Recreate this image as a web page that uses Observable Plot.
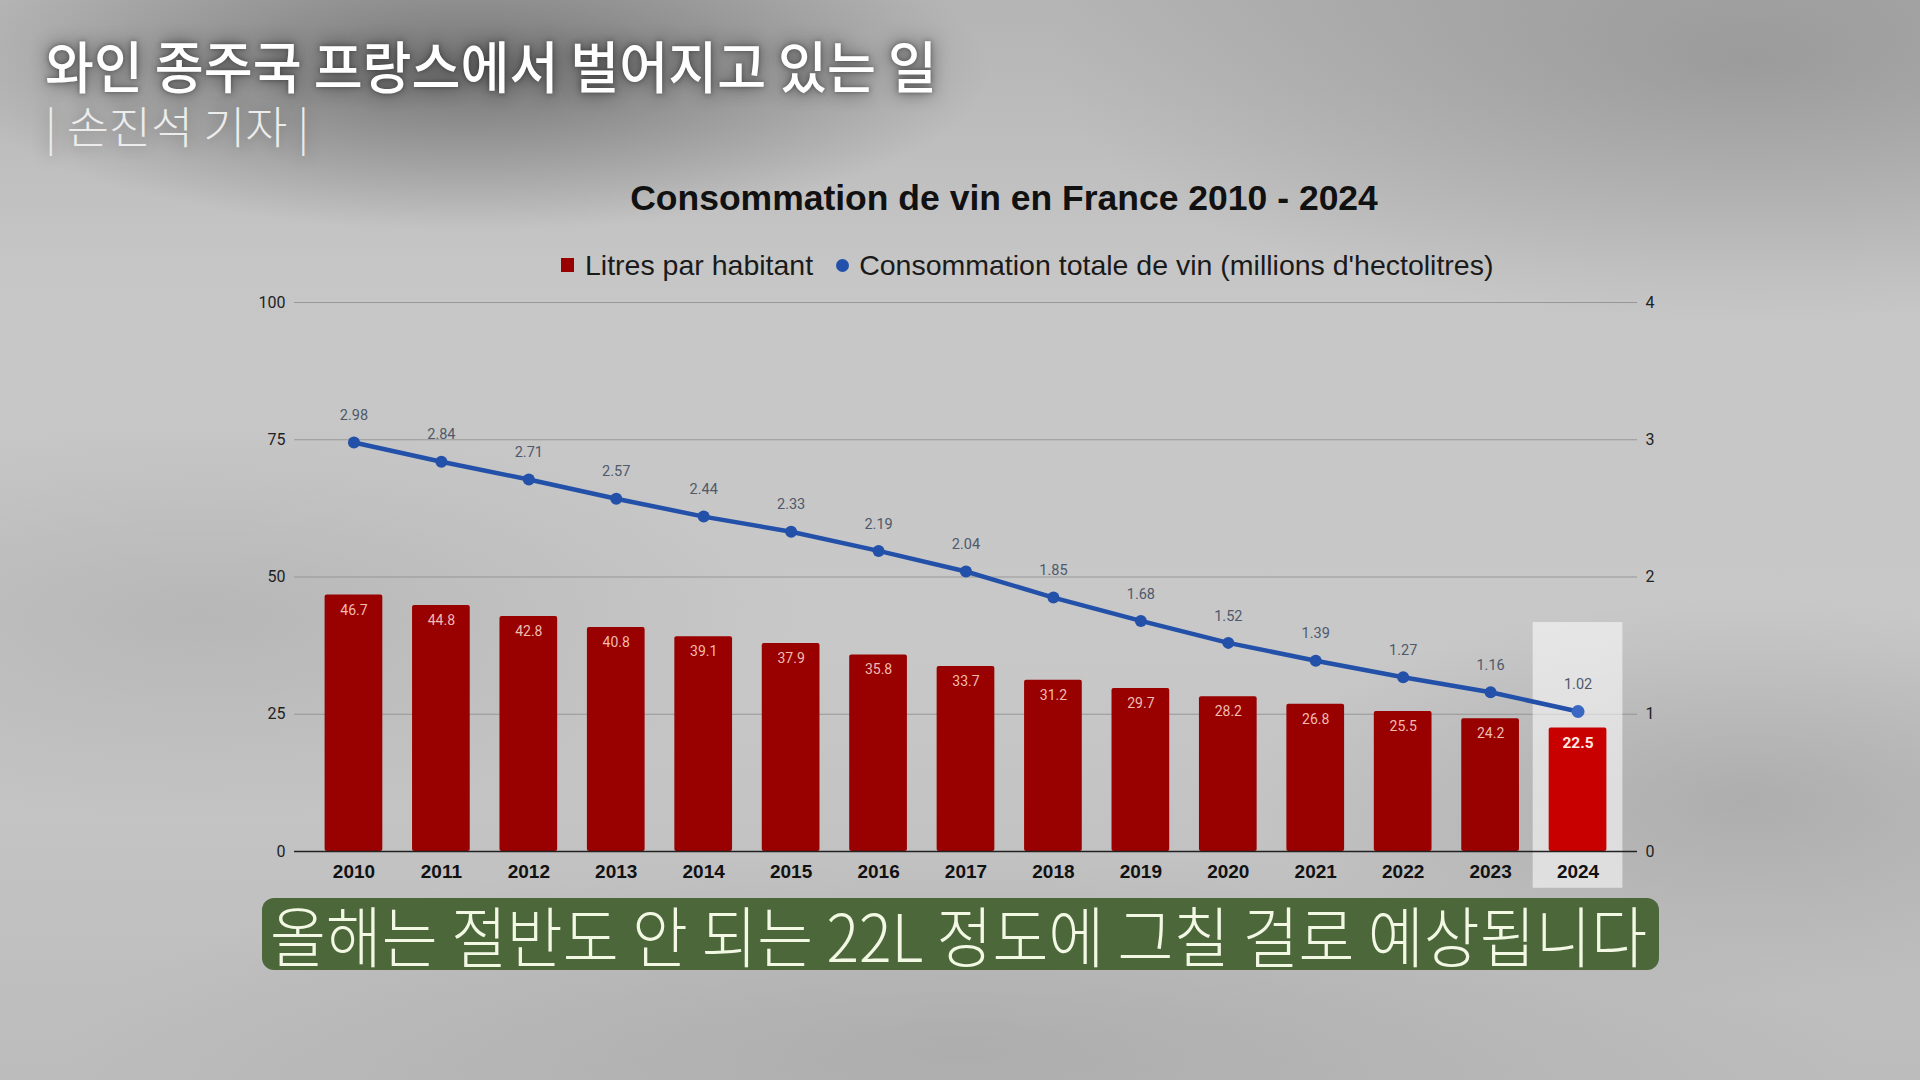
<!DOCTYPE html>
<html>
<head>
<meta charset="utf-8">
<script src="https://cdn.jsdelivr.net/npm/d3@7"></script>
<script src="https://cdn.jsdelivr.net/npm/@observablehq/plot@0.6"></script>
<style>
  html, body { margin: 0; padding: 0; }
  body {
    width: 1920px; height: 1080px; overflow: hidden; position: relative;
    background:
      radial-gradient(ellipse 520px 160px at 470px 70px, rgba(60,60,60,0.55), rgba(60,60,60,0) 100%),
      radial-gradient(ellipse 700px 260px at 1750px 60px, rgba(120,120,120,0.45), rgba(120,120,120,0) 100%),
      radial-gradient(ellipse 600px 200px at 200px 620px, rgba(150,150,150,0.35), rgba(150,150,150,0) 100%),
      radial-gradient(ellipse 500px 200px at 1750px 800px, rgba(140,140,140,0.4), rgba(140,140,140,0) 100%),
      radial-gradient(ellipse 900px 200px at 960px 1050px, rgba(150,150,150,0.4), rgba(150,150,150,0) 100%),
      linear-gradient(180deg, #b4b4b4 0%, #c6c6c6 25%, #c8c8c8 60%, #bcbcbc 100%);
  }
  .kr { font-family: "Noto Sans CJK KR", "Noto Sans", sans-serif; position: absolute; white-space: nowrap; transform-origin: left center; }
  #title { left: 45px; top: 32px; font-size: 56px; line-height: 64px; color: #ffffff; font-weight: 500;
    transform: scaleX(0.95); text-shadow: 0 0 18px rgba(30,30,30,0.75), 0 0 6px rgba(30,30,30,0.5); }
  #byline { left: 45px; top: 99px; font-size: 44px; line-height: 52px; color: #ececec; font-weight: 300;
    transform: scaleX(1.04); text-shadow: 0 0 14px rgba(60,60,60,0.5); }
  #ctitle { position: absolute; left: 0; width: 2008px; top: 178px; text-align: center;
    font-family: "Liberation Sans", Arial, sans-serif; font-weight: bold; font-size: 35.5px; line-height: 40px; color: #111; }
  #legend { position: absolute; left: 561px; top: 248px; height: 34px; display: flex; align-items: center;
    font-family: "Liberation Sans", Arial, sans-serif; font-size: 28.5px; color: #1a1a1a; white-space: nowrap; }
  #legend .sq { width: 13px; height: 14px; background: #990000; margin-right: 11px; display: inline-block; }
  #legend .ci { width: 13px; height: 13px; border-radius: 50%; background: #2350a8; margin-left: 23px; margin-right: 10px; display: inline-block; }
  #chart { position: absolute; left: 0; top: 280px; }
  #capbox { position: absolute; left: 262px; top: 898px; width: 1397px; height: 72px; background: #4c683b; border-radius: 12px; }
  #caption { left: 270px; top: 895px; font-size: 66px; line-height: 76px; color: #f3f8e4; font-weight: 300; transform: scaleX(0.92); }
</style>
</head>
<body>
<div id="title" class="kr">와인 종주국 프랑스에서 벌어지고 있는 일</div>
<div id="byline" class="kr">| 손진석 기자 |</div>
<div id="ctitle">Consommation de vin en France 2010 - 2024</div>
<div id="legend"><span class="sq"></span><span>Litres par habitant</span><span class="ci"></span><span>Consommation totale de vin (millions d'hectolitres)</span></div>
<div id="chart"></div>
<div id="capbox"></div>
<div id="caption" class="kr">올해는 절반도 안 되는 22L 정도에 그칠 걸로 예상됩니다</div>
<script>
const years = ["2010","2011","2012","2013","2014","2015","2016","2017","2018","2019","2020","2021","2022","2023","2024"];
const litresPerCapita = [46.7, 44.8, 42.8, 40.8, 39.1, 37.9, 35.8, 33.7, 31.2, 29.7, 28.2, 26.8, 25.5, 24.2, 22.5];
const totalMillionHl = [2.98, 2.84, 2.71, 2.57, 2.44, 2.33, 2.19, 2.04, 1.85, 1.68, 1.52, 1.39, 1.27, 1.16, 1.02];
const leftTicks = [0, 25, 50, 75, 100];
const rightTicks = [0, 1, 2, 3, 4];
const highlightYear = "2024";

const data = years.map((year, i) => ({year, litres: litresPerCapita[i], total: totalMillionHl[i]}));
const ratio = 100 / 4; // right axis 0–4 maps onto left axis 0–100
const past = data.filter(d => d.year !== highlightYear);
const last = data.filter(d => d.year === highlightYear);

const chart = Plot.plot({
  width: 1920,
  height: 620,
  marginTop: 22,
  marginBottom: 49,
  marginLeft: 294,
  marginRight: 283,
  style: {background: "transparent", overflow: "visible"},
  x: {domain: years, paddingInner: 0.34, paddingOuter: 0.35, round: false},
  y: {domain: [0, 100]},
  marks: [
    Plot.gridY(leftTicks.filter(t => t > 0), {stroke: "#8c8c8c", strokeOpacity: 0.8, strokeWidth: 1.2}),
    Plot.barY(past, {x: "year", y: "litres", fill: "#990000", rx: 2}),
    Plot.barY(last, {x: "year", y1: -6.7, y2: 41.7, fill: "#ffffff", fillOpacity: 0.55, insetLeft: -16, insetRight: -16}),
    Plot.line(data, {x: "year", y: d => d.total * ratio, stroke: "#2350a8", strokeWidth: 4.5}),
    Plot.dot(past, {x: "year", y: d => d.total * ratio, r: 6, fill: "#2350a8"}),
    Plot.dot(last, {x: "year", y: d => d.total * ratio, r: 6.5, fill: "#3a66c4"}),
    Plot.barY(last, {x: "year", y: "litres", fill: "#c80000", rx: 2}),
    Plot.ruleY([0], {stroke: "#222", strokeWidth: 1.6}),
    Plot.text(data, {x: "year", y: d => d.total * ratio, text: d => d.total.toFixed(2), dy: -27, fill: "#4f596b", fontSize: 14.5, fontFamily: "Roboto, sans-serif"}),
    Plot.text(past, {x: "year", y: "litres", text: d => d.litres.toFixed(1), dy: 15, fill: "#f0bcb0", fontSize: 14, fontFamily: "Roboto, sans-serif"}),
    Plot.text(last, {x: "year", y: "litres", text: d => d.litres.toFixed(1), dy: 15, fill: "#ffe8e0", fontSize: 15.5, fontWeight: "bold", fontFamily: "Roboto, sans-serif"}),
    Plot.axisY({anchor: "left", ticks: leftTicks, tickSize: 0, tickPadding: 9, label: null, fontSize: 16, fill: "#222", fontFamily: "Roboto, sans-serif"}),
    Plot.axisY({anchor: "right", ticks: rightTicks.map(t => t * ratio), tickFormat: d => d / ratio, tickSize: 0, tickPadding: 8, label: null, fontSize: 16, fill: "#222", fontFamily: "Roboto, sans-serif"}),
    Plot.axisX({tickSize: 0, tickPadding: 13, label: null, fontSize: 19, fontWeight: "bold", fill: "#111", fontFamily: "Liberation Sans, Arial, sans-serif"})
  ]
});
document.getElementById("chart").appendChild(chart);
</script>
</body>
</html>
